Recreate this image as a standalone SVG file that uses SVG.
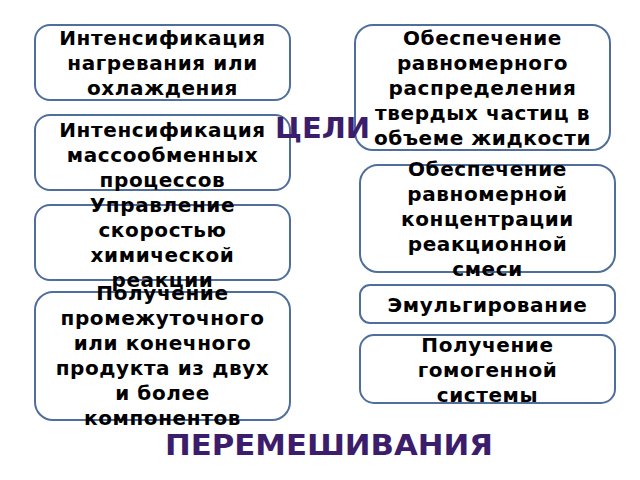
<svg xmlns="http://www.w3.org/2000/svg" width="640" height="480" viewBox="0 0 640 480">
<style>
.box{fill:#ffffff;stroke:#4f6e9c;stroke-width:2}
.t{font-family:"DejaVu Sans",Verdana,sans-serif;font-weight:bold;font-size:20px;fill:#000000;text-anchor:middle;letter-spacing:0.6px}
.h{font-family:"DejaVu Sans",Verdana,sans-serif;font-weight:bold;font-size:28px;fill:#3b1d6c}
</style>
<rect width="640" height="480" fill="#ffffff"/>
<g id="connectors"></g>
<g id="n1">
<rect class="box" x="35" y="25" width="255" height="75" rx="15"/>
<text class="t"><tspan x="162.5" y="45">Интенсификация</tspan><tspan x="162.5" y="70">нагревания или</tspan><tspan x="162.5" y="95">охлаждения</tspan></text>
</g>
<g id="n2">
<rect class="box" x="35" y="115" width="255" height="75" rx="15"/>
<text class="t"><tspan x="162.5" y="137">Интенсификация</tspan><tspan x="162.5" y="162">массообменных</tspan><tspan x="162.5" y="187">процессов</tspan></text>
</g>
<g id="n3">
<rect class="box" x="35" y="205" width="255" height="75" rx="15"/>
<text class="t"><tspan x="162.5" y="212">Управление</tspan><tspan x="162.5" y="237">скоростью</tspan><tspan x="162.5" y="262">химической</tspan><tspan x="162.5" y="287">реакции</tspan></text>
</g>
<g id="n4">
<rect class="box" x="35" y="292" width="255" height="128" rx="18"/>
<text class="t"><tspan x="162.5" y="300">Получение</tspan><tspan x="162.5" y="325">промежуточного</tspan><tspan x="162.5" y="350">или конечного</tspan><tspan x="162.5" y="375">продукта из двух</tspan><tspan x="162.5" y="400">и более</tspan><tspan x="162.5" y="425">компонентов</tspan></text>
</g>
<g id="n5">
<rect class="box" x="355" y="25" width="255" height="125" rx="18"/>
<text class="t"><tspan x="482.5" y="45">Обеспечение</tspan><tspan x="482.5" y="70">равномерного</tspan><tspan x="482.5" y="95">распределения</tspan><tspan x="482.5" y="120">твердых частиц в</tspan><tspan x="482.5" y="145">объеме жидкости</tspan></text>
</g>
<g id="n6">
<rect class="box" x="360" y="165" width="255" height="107" rx="18"/>
<text class="t"><tspan x="487.5" y="176">Обеспечение</tspan><tspan x="487.5" y="201">равномерной</tspan><tspan x="487.5" y="226">концентрации</tspan><tspan x="487.5" y="251">реакционной</tspan><tspan x="487.5" y="276">смеси</tspan></text>
</g>
<g id="n7">
<rect class="box" x="360" y="285" width="255" height="38" rx="10"/>
<text class="t"><tspan x="487.5" y="312">Эмульгирование</tspan></text>
</g>
<g id="n8">
<rect class="box" x="360" y="335" width="255" height="68" rx="14"/>
<text class="t"><tspan x="487.5" y="352">Получение</tspan><tspan x="487.5" y="377">гомогенной</tspan><tspan x="487.5" y="402">системы</tspan></text>
</g>
<g id="titles">
<text class="h" x="275" y="138" textLength="95" lengthAdjust="spacingAndGlyphs">ЦЕЛИ</text>
<text class="h" x="165" y="455" textLength="328" lengthAdjust="spacingAndGlyphs">ПЕРЕМЕШИВАНИЯ</text>
</g>
</svg>
